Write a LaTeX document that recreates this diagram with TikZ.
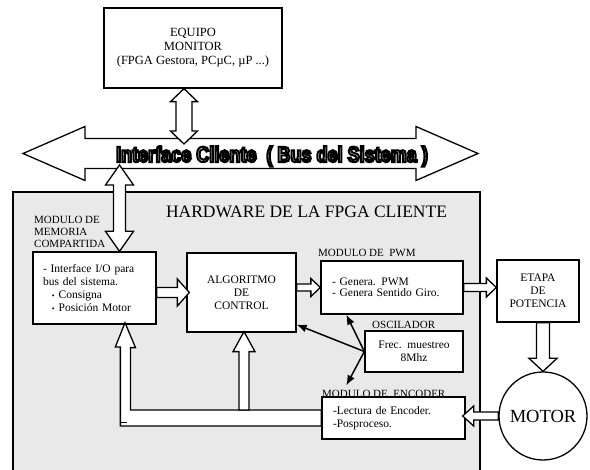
\documentclass[tikz,border=0pt]{standalone}
\usepackage{fontspec}
\setmainfont{Liberation Serif}
\newfontfamily\busfont[FakeStretch=0.82]{Liberation Sans}
\usetikzlibrary{calc,arrows.meta}

\definecolor{hwgray}{RGB}{233,233,233}
\newcommand{\txt}{\fontsize{11.5}{13}\selectfont}

\tikzset{%
	block/.style     = {draw, line width=1.3pt, rectangle, fill=white, inner sep=0pt,
		align=center, font=\txt},
	listblock/.style = {block, align=left, inner xsep=10pt}, % left aligned text
	hollow/.style    = {draw, line width=1.3pt, fill=white, line join=miter}, % block arrows
	sig/.style       = {line width=1.5pt, -{Latex[length=10pt,width=8pt]}}, % clock lines
	tag/.style       = {font=\fontsize{11}{12}\selectfont, inner sep=0pt, align=left}
}

% hollow arrow: start, tip, half shaft, half head, head length
\newcommand{\blockarrow}[5]{%
	\coordinate (ba-s) at #1;
	\coordinate (ba-t) at #2;
	\coordinate (ba-q) at ($(ba-t)!#5!(ba-s)$);
	\draw[hollow] ($(ba-s)!#3!90:(ba-t)$) -- ($(ba-q)!#3!-90:(ba-s)$)
		-- ($(ba-q)!#4!-90:(ba-s)$) -- (ba-t) -- ($(ba-q)!#4!90:(ba-s)$)
		-- ($(ba-q)!#3!90:(ba-s)$) -- ($(ba-s)!#3!-90:(ba-t)$) -- cycle;}
% same with a head on both ends
\newcommand{\blockdarrow}[5]{%
	\coordinate (ba-s) at #1;
	\coordinate (ba-t) at #2;
	\coordinate (ba-p) at ($(ba-s)!#5!(ba-t)$);
	\coordinate (ba-q) at ($(ba-t)!#5!(ba-s)$);
	\draw[hollow] (ba-s) -- ($(ba-p)!#4!90:(ba-t)$) -- ($(ba-p)!#3!90:(ba-t)$)
		-- ($(ba-q)!#3!-90:(ba-s)$) -- ($(ba-q)!#4!-90:(ba-s)$) -- (ba-t)
		-- ($(ba-q)!#4!90:(ba-s)$) -- ($(ba-q)!#3!90:(ba-s)$)
		-- ($(ba-p)!#3!-90:(ba-t)$) -- ($(ba-p)!#4!-90:(ba-t)$) -- cycle;}
% white letters with a black outline (fill and stroke render mode)
\newcommand{\hollowtext}[1]{%
	\textcolor{white}{\special{pdf:literal direct 2 Tr 2 w 0 G}#1\special{pdf:literal direct 0 Tr}}}

\begin{document}
\begin{tikzpicture}[x=1pt,y=-1pt]
	\useasboundingbox (0,0) rectangle (590,470);

	\node[draw, line width=1.3pt, fill=hwgray, minimum width=467pt, minimum height=298pt,
		inner sep=0pt] (hw) at (246.5,341) {};
	\node[font=\fontsize{17.5}{20}\selectfont] (hwname) at (306.5,212) {HARDWARE DE LA FPGA CLIENTE};

	% bus
	\coordinate (busL) at (23,153.5);
	\coordinate (busR) at (478,153.5);
	\blockdarrow{(busL)}{(busR)}{15pt}{27pt}{62pt}
	\node[font=\busfont\bfseries\fontsize{22}{24}\selectfont, anchor=base] (buslbl) at (272,162)
		{\hollowtext{Interface Cliente\hspace{10pt}( Bus del Sistema )}};

	\node[block, minimum width=178pt, minimum height=80pt, font=\fontsize{12.5}{14}\selectfont]
		(mon) at (193,48) {EQUIPO\\ MONITOR\\ (FPGA Gestora, PCµC, µP ...)};
	\coordinate (busmon) at (184,144);
	\coordinate (busmem) at (119.5,165);
	\blockdarrow{([xshift=-9pt]mon.south)}{(busmon)}{8pt}{13.5pt}{13pt}

	\node[tag, anchor=west] (memlbl) at (34,232) {MODULO DE\\ MEMORIA\\ COMPARTIDA};
	\node[listblock, text width=103pt, minimum height=72pt] (mem) at (94.5,288)
		{- Interface I/O para\\ bus del sistema.\\
		\hspace*{9pt}{\footnotesize\textbullet} Consigna\\
		\hspace*{9pt}{\footnotesize\textbullet} Posición Motor};
	\blockdarrow{(busmem)}{([xshift=25pt]mem.north)}{6pt}{14pt}{20pt}

	\node[block, minimum width=109pt, minimum height=79pt] (alg) at (241.5,292.5)
		{ALGORITMO\\ DE\\ CONTROL};

	\node[tag, anchor=west] (pwmlbl) at (318,253) {MODULO DE\ \ PWM};
	\node[listblock, inner xsep=11pt, text width=120pt, minimum height=53pt,
		font=\fontsize{11.5}{10.5}\selectfont] (pwm) at (392,287.5)
		{- Genera. PWM\\ - Genera Sentido Giro.};

	\node[block, minimum width=82pt, minimum height=62pt] (etapa) at (538,291)
		{ETAPA\\ DE\\ POTENCIA};

	\node[tag, anchor=west] (osclbl) at (372,325) {OSCILADOR};
	\node[block, minimum width=98pt, minimum height=41pt] (osc) at (414,351.5)
		{Frec.\ \ muestreo\\ 8Mhz};

	\node[tag, anchor=base west] (enclbl) at (322,397.5) {MODULO DE\ \ ENCODER};
	\node[listblock, inner xsep=11pt, text width=121pt, minimum height=42pt] (enc) at (393.5,418)
		{-Lectura de Encoder.\\ -Posproceso.};

	\node[draw, circle, line width=1.3pt, fill=white, minimum size=88pt, inner sep=0pt,
		font=\fontsize{18.5}{20}\selectfont] (motor) at (543,416) {MOTOR};

	% data path
	\blockarrow{(mem.east |- alg.west)}{([xshift=3pt]alg.west)}{5pt}{13.5pt}{12pt}
	\blockarrow{(alg.east |- pwm.west)}{(pwm.west)}{3.5pt}{9pt}{9.5pt}
	\blockarrow{(pwm.east)}{(etapa.west |- pwm.east)}{4pt}{9.5pt}{10pt}
	\blockarrow{([xshift=5pt]etapa.south)}{(motor.north)}{6.5pt}{14pt}{13pt}
	\blockarrow{(motor.west)}{($(enc.east |- motor.west)+(-3,0)$)}{4pt}{10pt}{11pt}

	% feedback from encoder
	\coordinate (fbtee) at (244,410);
	\draw[hollow] ([xshift=30.5pt,yshift=2pt]mem.south) -- ++(10.5,25) -- ++(-5,0)
		|- ([yshift=8pt]enc.west) -- ([yshift=-8pt]enc.west) -- ++(-201,0) -- ++(0,-79)
		-- ++(-5,0) -- cycle;
	\blockarrow{(fbtee)}{([xshift=2.5pt,yshift=1pt]alg.south)}{5pt}{11pt}{20pt}
	\draw[line width=1pt] (121,423) -- (127,423);

	% oscillator
	\draw[sig] (osc.west) -- ([yshift=8pt]alg.south east);
	\draw[sig] (osc.west) -- ([xshift=26pt]pwm.south west);
	\draw[sig] (osc.west) -- ([xshift=25pt,yshift=11pt]enc.north west);
\end{tikzpicture}
\end{document}
